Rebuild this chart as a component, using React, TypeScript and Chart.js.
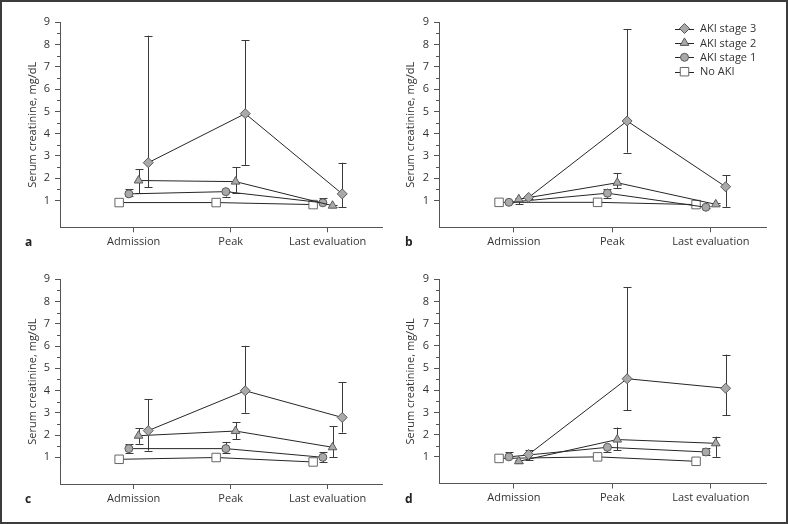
import React, { useEffect, useRef } from 'react';
import { Chart, registerables } from 'chart.js';

Chart.register(...registerables);

// ---------- data ----------
const categories = ['Admission', 'Peak', 'Last evaluation'];
const seriesNames = ['AKI stage 3', 'AKI stage 2', 'AKI stage 1', 'No AKI'];
const yTickValues = [1, 2, 3, 4, 5, 6, 7, 8, 9];
const yMinorValues = [1.5, 2.5, 3.5, 4.5, 5.5, 6.5, 7.5, 8.5];
const yAxisTitle = 'Serum creatinine, mg/dL';

// panel a
const aS3 = [2.7, 4.9, 1.3];
const aS3Lo = [1.6, 2.6, 0.7];
const aS3Hi = [8.4, 8.2, 2.7];
const aS2 = [1.9, 1.85, 0.77];
const aS2Lo = [1.32, 1.35, 0.72];
const aS2Hi = [2.4, 2.5, 0.82];
const aS1 = [1.3, 1.4, 0.9];
const aS1Lo = [1.22, 1.18, 0.84];
const aS1Hi = [1.5, 1.45, 1.1];
const aNo = [0.91, 0.91, 0.82];

// panel b
const bS3 = [1.14, 4.57, 1.62];
const bS3Lo = [1.05, 3.15, 0.72];
const bS3Hi = [1.22, 8.69, 2.13];
const bS2 = [1.06, 1.8, 0.83];
const bS2Lo = [0.83, 1.57, 0.78];
const bS2Hi = [1.12, 2.22, 0.88];
const bS1 = [0.92, 1.33, 0.7];
const bS1Lo = [0.88, 1.1, 0.66];
const bS1Hi = [0.96, 1.53, 0.74];
const bNo = [0.92, 0.92, 0.82];

// panel c
const cS3 = [2.2, 3.99, 2.79];
const cS3Lo = [1.3, 3.0, 2.11];
const cS3Hi = [3.6, 6.01, 4.38];
const cS2 = [1.97, 2.18, 1.45];
const cS2Lo = [1.61, 1.81, 1.0];
const cS2Hi = [2.3, 2.57, 2.39];
const cS1 = [1.39, 1.39, 1.0];
const cS1Lo = [1.2, 1.2, 0.79];
const cS1Hi = [1.6, 1.69, 1.24];
const cNo = [0.91, 0.99, 0.79];

// panel d
const dS3 = [1.11, 4.52, 4.09];
const dS3Lo = [0.84, 3.09, 2.88];
const dS3Hi = [1.3, 8.64, 5.61];
const dS2 = [0.8, 1.78, 1.61];
const dS2Lo = [0.72, 1.31, 1.0];
const dS2Hi = [0.88, 2.32, 1.91];
const dS1 = [1.0, 1.43, 1.22];
const dS1Lo = [0.95, 1.21, 1.1];
const dS1Hi = [1.21, 1.5, 1.39];
const dNo = [0.93, 1.0, 0.8];

// ---------- styling ----------
const FONT = '"Open Sans", "Noto Sans", sans-serif';
const TEXT = '#333333';
const AXIS = '#555555';
const LINE = '#262626';
const ERR = '#3a3a3a';
const GRAY = '#a9a9a9';
const EDGE = '#5a5a5a';

const xOffsets = [0.15, 0.05, -0.05, -0.15];
const pointStyles = ['rectRot', 'triangle', 'circle', 'rect'];
const pointRadii = [5, 5, 4, 6];
const pointFills = [GRAY, GRAY, GRAY, '#ffffff'];
const pointEdges = [EDGE, EDGE, EDGE, '#666666'];

type Series = { mean: number[]; lo: number[]; hi: number[] };
type PanelDef = {
  letter: string;
  series: Series[];
  ox: number; oy: number;
  left: number; right: number; top: number; bottom: number;
  titlePad: number; letterX: number; letterY: number;
  legend: boolean;
};

const PW = 394;
const PH = 262;

const panels: PanelDef[] = [
  {
    letter: 'a',
    series: [
      { mean: aS3, lo: aS3Lo, hi: aS3Hi },
      { mean: aS2, lo: aS2Lo, hi: aS2Hi },
      { mean: aS1, lo: aS1Lo, hi: aS1Hi },
      { mean: aNo, lo: aNo, hi: aNo },
    ],
    ox: 0, oy: 0, left: 60, right: 382, top: 22.3, bottom: 227.3,
    titlePad: 26.4, letterX: 25, letterY: 234, legend: false,
  },
  {
    letter: 'b',
    series: [
      { mean: bS3, lo: bS3Lo, hi: bS3Hi },
      { mean: bS2, lo: bS2Lo, hi: bS2Hi },
      { mean: bS1, lo: bS1Lo, hi: bS1Hi },
      { mean: bNo, lo: bNo, hi: bNo },
    ],
    ox: 394, oy: 0, left: 45, right: 372, top: 22.3, bottom: 227.3,
    titlePad: 10.1, letterX: 11, letterY: 234, legend: true,
  },
  {
    letter: 'c',
    series: [
      { mean: cS3, lo: cS3Lo, hi: cS3Hi },
      { mean: cS2, lo: cS2Lo, hi: cS2Hi },
      { mean: cS1, lo: cS1Lo, hi: cS1Hi },
      { mean: cNo, lo: cNo, hi: cNo },
    ],
    ox: 0, oy: 262, left: 60, right: 382, top: 17.3, bottom: 222,
    titlePad: 26.4, letterX: 25, letterY: 229, legend: false,
  },
  {
    letter: 'd',
    series: [
      { mean: dS3, lo: dS3Lo, hi: dS3Hi },
      { mean: dS2, lo: dS2Lo, hi: dS2Hi },
      { mean: dS1, lo: dS1Lo, hi: dS1Hi },
      { mean: dNo, lo: dNo, hi: dNo },
    ],
    ox: 394, oy: 262, left: 45, right: 372, top: 17.3, bottom: 221.5,
    titlePad: 10.1, letterX: 11, letterY: 229, legend: false,
  },
];

function drawMarker(ctx: CanvasRenderingContext2D, style: string, x: number, y: number, r: number) {
  ctx.beginPath();
  if (style === 'rectRot') {
    ctx.moveTo(x - r, y);
    ctx.lineTo(x, y - r);
    ctx.lineTo(x + r, y);
    ctx.lineTo(x, y + r);
    ctx.closePath();
  } else if (style === 'triangle') {
    for (let k = 0; k < 3; k++) {
      const a = (k * 2 * Math.PI) / 3;
      const px = x + Math.sin(a) * r;
      const py = y - Math.cos(a) * r;
      if (k === 0) ctx.moveTo(px, py);
      else ctx.lineTo(px, py);
    }
    ctx.closePath();
  } else if (style === 'circle') {
    ctx.arc(x, y, r, 0, Math.PI * 2);
  } else {
    const s = r * Math.SQRT1_2;
    ctx.rect(x - s, y - s, 2 * s, 2 * s);
  }
  ctx.fill();
  ctx.stroke();
}

function Panel({ def }: { def: PanelDef }) {
  const ref = useRef<HTMLCanvasElement | null>(null);

  useEffect(() => {
    if (!ref.current) return;

    const errorBars = {
      id: 'errorBars',
      beforeDatasetsDraw(chart: any) {
        const ctx = chart.ctx;
        const xs = chart.scales.x;
        const ys = chart.scales.y;
        ctx.save();
        ctx.strokeStyle = ERR;
        ctx.lineWidth = 1;
        def.series.forEach((s, i) => {
          s.mean.forEach((_, j) => {
            const lo = s.lo[j];
            const hi = s.hi[j];
            if (hi === lo) return;
            const x = Math.round(xs.getPixelForValue(j + 1 + xOffsets[i])) + 0.5;
            const y1 = ys.getPixelForValue(lo);
            const y2 = ys.getPixelForValue(hi);
            ctx.beginPath();
            ctx.moveTo(x, y1);
            ctx.lineTo(x, y2);
            ctx.moveTo(x - 4, Math.round(y1) + 0.5);
            ctx.lineTo(x + 4, Math.round(y1) + 0.5);
            ctx.moveTo(x - 4, Math.round(y2) + 0.5);
            ctx.lineTo(x + 4, Math.round(y2) + 0.5);
            ctx.stroke();
          });
        });
        ctx.restore();
      },
    };

    const minorTicks = {
      id: 'minorTicks',
      afterDraw(chart: any) {
        const ctx = chart.ctx;
        const ys = chart.scales.y;
        const left = chart.chartArea.left;
        ctx.save();
        ctx.strokeStyle = AXIS;
        ctx.lineWidth = 1;
        yMinorValues.forEach((v) => {
          const y = Math.round(ys.getPixelForValue(v)) + 0.5;
          ctx.beginPath();
          ctx.moveTo(left - 3, y);
          ctx.lineTo(left, y);
          ctx.stroke();
        });
        ctx.restore();
      },
    };

    const legendPlugin = {
      id: 'customLegend',
      afterDraw(chart: any) {
        if (!def.legend) return;
        const ctx = chart.ctx;
        ctx.save();
        ctx.font = `11px ${FONT}`;
        ctx.textBaseline = 'middle';
        ctx.textAlign = 'left';
        seriesNames.forEach((name, i) => {
          const y = 28.5 + i * 14.4;
          ctx.strokeStyle = LINE;
          ctx.lineWidth = 1;
          ctx.beginPath();
          ctx.moveTo(281, Math.round(y) + 0.5);
          ctx.lineTo(300, Math.round(y) + 0.5);
          ctx.stroke();
          ctx.fillStyle = pointFills[i];
          ctx.strokeStyle = pointEdges[i];
          drawMarker(ctx, pointStyles[i], 290.5, y, pointRadii[i]);
          ctx.fillStyle = TEXT;
          ctx.fillText(name, 306, y + 0.5);
        });
        ctx.restore();
      },
    };

    const datasets = def.series.map((s, i) => ({
      label: seriesNames[i],
      data: s.mean.map((v, j) => ({ x: j + 1 + xOffsets[i], y: v })),
      borderColor: LINE,
      borderWidth: 1,
      pointStyle: pointStyles[i] as any,
      pointRadius: pointRadii[i],
      pointBackgroundColor: pointFills[i],
      pointBorderColor: pointEdges[i],
      pointBorderWidth: 1,
      fill: false,
      tension: 0,
    }));

    const font = { family: FONT, size: 11 };

    const chart = new Chart(ref.current, {
      type: 'line',
      data: { datasets },
      options: {
        responsive: false,
        animation: false,
        events: [],
        layout: { padding: { top: def.top, right: PW - def.right, bottom: 0, left: 0 } },
        plugins: { legend: { display: false }, tooltip: { enabled: false }, title: { display: false } },
        scales: {
          x: {
            type: 'linear',
            min: 0.24,
            max: 3.56,
            afterBuildTicks: (s: any) => {
              s.ticks = categories.map((_, i) => ({ value: i + 1 }));
            },
            afterFit: (s: any) => {
              s.height = PH - def.bottom;
            },
            grid: { drawOnChartArea: false, drawTicks: true, tickLength: 5, color: AXIS },
            border: { color: AXIS, width: 1 },
            ticks: {
              font,
              color: TEXT,
              padding: 3,
              maxRotation: 0,
              autoSkip: false,
              callback: (v: any) => categories[Math.round(v) - 1] ?? '',
            },
          },
          y: {
            type: 'linear',
            min: -0.2,
            max: 9,
            afterBuildTicks: (s: any) => {
              s.ticks = yTickValues.map((v) => ({ value: v }));
            },
            afterFit: (s: any) => {
              s.width = def.left;
            },
            grid: { drawOnChartArea: false, drawTicks: true, tickLength: 5, color: AXIS },
            border: { color: AXIS, width: 1 },
            ticks: { font, color: TEXT, padding: 5, autoSkip: false },
            title: {
              display: true,
              text: yAxisTitle,
              font,
              color: TEXT,
              padding: { top: def.titlePad, bottom: 0 },
            },
          },
        },
      },
      plugins: [errorBars, minorTicks, legendPlugin],
    } as any);

    return () => chart.destroy();
  }, [def]);

  return (
    <div style={{ position: 'absolute', left: def.ox, top: def.oy, width: PW, height: PH }}>
      <canvas ref={ref} width={PW} height={PH} style={{ display: 'block', width: PW, height: PH }} />
      <div
        style={{
          position: 'absolute',
          left: def.letterX,
          top: def.letterY,
          font: `bold 12px ${FONT}`,
          lineHeight: '16px',
          color: '#222',
        }}
      >
        {def.letter}
      </div>
    </div>
  );
}

export default function App() {
  useEffect(() => {
    document.body.style.margin = '0';
  }, []);
  return (
    <div
      style={{
        position: 'fixed',
        left: 0,
        top: 0,
        width: 788,
        height: 524,
        background: '#ffffff',
        overflow: 'hidden',
      }}
    >
      {panels.map((p) => (
        <Panel key={p.letter} def={p} />
      ))}
      <div
        style={{
          position: 'absolute',
          left: 0,
          top: 0,
          width: 788,
          height: 524,
          boxSizing: 'border-box',
          border: '2px solid #3c3c3c',
          pointerEvents: 'none',
        }}
      />
    </div>
  );
}
